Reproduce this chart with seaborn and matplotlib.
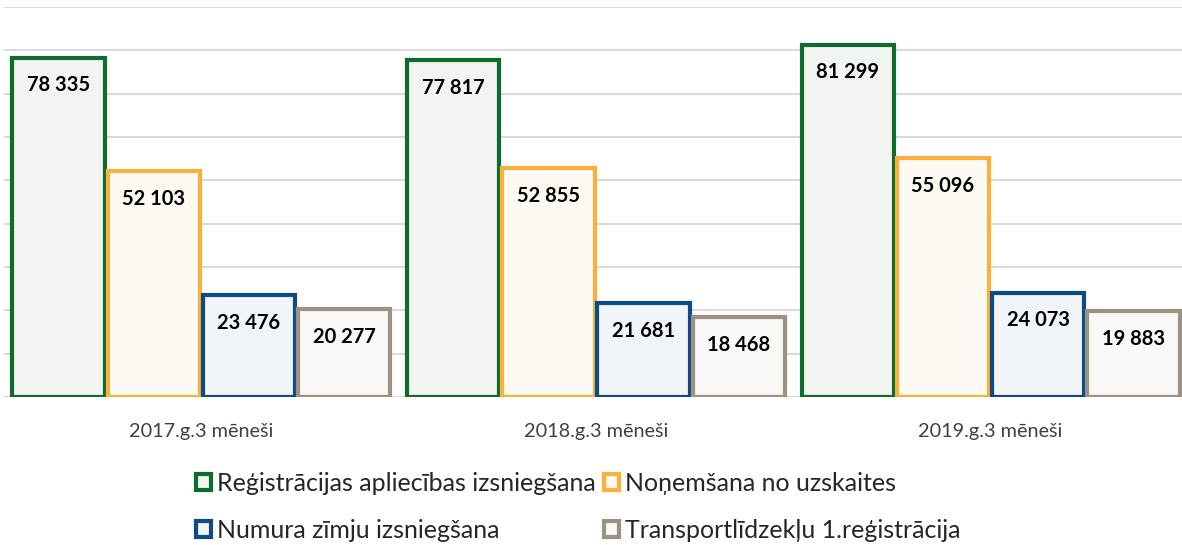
import pandas as pd
import seaborn as sns
import matplotlib.pyplot as plt
from matplotlib.patches import Patch

periods = ['2017.g.3 mēneši', '2018.g.3 mēneši', '2019.g.3 mēneši']
types = ['Reģistrācijas apliecības izsniegšana', 'Noņemšana no uzskaites',
         'Numura zīmju izsniegšana', 'Transportlīdzekļu 1.reģistrācija']
reg = [78335, 77817, 81299]
non = [52103, 52855, 55096]
num = [23476, 21681, 24073]
tr1 = [20277, 18468, 19883]

edges = ['#0E6B2C', '#FBB03B', '#0D4A86', '#9D9182']
fills = ['#F0F5F0', '#FEFAF2', '#F0F4F9', '#F9F8F6']

df = pd.DataFrame({
    'period': periods * 4,
    'type': [t for t in types for _ in periods],
    'value': reg + non + num + tr1,
})

sns.set_style('white')
plt.rcParams['font.family'] = ['Lato', 'DejaVu Sans']

fig = plt.figure(figsize=(11.82, 5.45), dpi=100)
ax = fig.add_axes([4 / 1182, 1 - 397 / 545, 1184 / 1182, 390 / 545])

sns.barplot(data=df, x='period', y='value', hue='type', palette=fills,
            width=0.965, gap=0.03, ax=ax, legend=False, zorder=3)

for cont, ec in zip(ax.containers, edges):
    for p in cont:
        p.set_edgecolor(ec)
        p.set_linewidth(3)
        h = p.get_height()
        ax.annotate(f'{int(h):,}'.replace(',', ' '),
                    (p.get_x() + p.get_width() / 2, h),
                    xytext=(0, -20), textcoords='offset points',
                    ha='center', va='center', fontsize=14.5,
                    fontweight='bold', color='black', zorder=5)

ax.set_ylim(0, 90000)
ax.set_xlim(-0.5, 2.5)
ax.set_yticks(range(0, 90001, 10000))
ax.set_yticklabels([])
ax.tick_params(axis='y', length=0)
ax.tick_params(axis='x', length=0, pad=19, labelsize=14.3, labelcolor='#404040')
ax.grid(axis='y', color='#D9D9D9', lw=1.4, zorder=0)
ax.set_axisbelow(True)
for s in ax.spines.values():
    s.set_visible(False)
ax.set_xlabel('')
ax.set_ylabel('')

# row-major legend order like the original: matplotlib fills by column
order = [0, 2, 1, 3]
handles = [Patch(facecolor=fills[i], edgecolor=edges[i], lw=3) for i in order]
labels = [types[i] for i in order]
fig.legend(handles, labels, loc='upper left', bbox_to_anchor=(196 / 1182, 1 - 472 / 545),
           ncol=2, frameon=False, fontsize=18, handlelength=0.6,
           handleheight=0.6, handletextpad=0.25, columnspacing=0.3,
           labelspacing=0.95, borderaxespad=0, borderpad=0)

fig.savefig('out.png', dpi=100)
